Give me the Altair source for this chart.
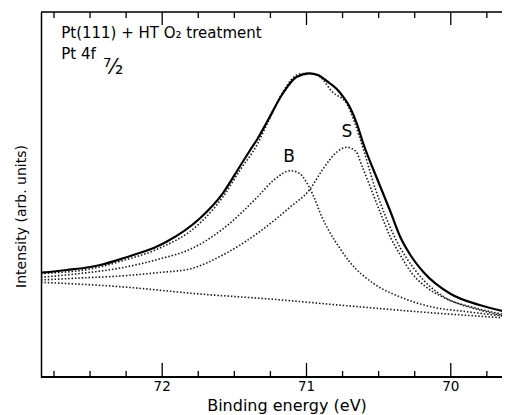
import altair as alt
import pandas as pd

# ---- data ----
total_E = [72.84, 72.66, 72.50, 72.43, 72.27, 72.20, 72.04, 71.97, 71.74, 71.58,
           71.46, 71.39, 71.34, 71.27, 71.16, 71.07, 70.98, 70.92, 70.86, 70.79,
           70.75, 70.70, 70.65, 70.61, 70.51, 70.42, 70.35, 70.28, 70.19, 70.00,
           69.80, 69.59]
total_I = [104.3, 107, 110, 112, 118.7, 122, 130.3, 135.3, 158.5, 183.7,
           211, 227, 238, 256, 284.5, 300, 303.7, 302, 296, 288,
           281, 270, 253, 235, 198, 166, 140, 122, 105, 83,
           72, 64.5]

env_E = [72.84, 72.50, 72.27, 72.04, 71.74, 71.58, 71.46, 71.34, 71.27, 71.16, 71.05,
         70.98, 70.91, 70.82, 70.72, 70.63, 70.52, 70.39, 70.23, 70.05, 69.82, 69.59]
env_I = [103.5, 108, 116.5, 127.5, 153.7, 180, 207, 233, 254, 286, 303,
         303.5, 300.5, 285, 273, 239, 187, 140.3, 103.7, 80.3, 68.7, 61.5]

b_E = [72.84, 72.57, 72.29, 72.02, 71.81, 71.58, 71.34, 71.23, 71.11, 71.05,
       70.96, 70.89, 70.84, 70.77, 70.70, 70.53, 70.35, 70.12, 69.89, 69.59]
b_I = [99.7, 103.5, 109, 118, 127.5, 148, 180, 196.5, 206.3, 203.7,
       183.7, 159, 145, 129, 115, 93, 80, 69.7, 65.3, 60.3]

s_E = [72.84, 72.57, 72.29, 72.02, 71.81, 71.58, 71.34, 71.11, 70.98, 70.89,
       70.84, 70.79, 70.72, 70.66, 70.61, 70.55, 70.49, 70.42, 70.35, 70.27,
       70.18, 70.07, 69.94, 69.80, 69.59]
s_I = [97, 99, 101, 104.5, 108, 122, 143.7, 170.3, 187, 207,
       217, 225, 229.7, 226, 209, 187, 165, 140.3, 122, 103.7,
       91, 81, 73, 67, 60]

bg_E = [72.84, 72.29, 71.74, 71.23, 70.70, 70.23, 69.59]
bg_I = [94.7, 90.3, 83, 77.7, 71, 65.3, 58.7]

major_ticks = [72, 71, 70]
major_labels = ["72", "71", "70"]
minor_ticks = [72.75, 72.5, 72.25, 71.75, 71.5, 71.25, 70.75, 70.5, 70.25, 69.75]
x_title = "Binding energy (eV)"

peak_labels = ["B", "S"]
peak_label_E = [71.12, 70.72]
peak_label_I = [220.5, 245.5]

note_lines = ["Pt(111) + HT O\u2082 treatment", "Pt 4f"]
note_E = [72.70, 72.70]
note_I = [339, 318]

# ---- layout ----
W, H = 461, 365
FONT = "DejaVu Sans"
E_LEFT, E_RIGHT = 72.84, 69.645
Y_TOP = 365


def xscale():
    return alt.Scale(domain=[E_RIGHT, E_LEFT], reverse=True, nice=False, zero=False)


yscale = alt.Scale(domain=[0, Y_TOP], nice=False, zero=False)

yaxis = alt.Axis(
    labels=False, ticks=False, grid=False, domain=True,
    domainColor="black", domainWidth=1.5,
    title="Intensity (arb. units)", titleFont=FONT, titleFontSize=14,
    titleFontWeight="normal", titleColor="black", titleAngle=270,
    titleX=-16, titleY=204, titleBaseline="alphabetic", titleAlign="center")

X = alt.X("E:Q", scale=xscale(), axis=None)
Y = alt.Y("I:Q", scale=yscale, axis=yaxis)

total_df = pd.DataFrame({"E": total_E, "I": total_I})
dotted_df = pd.concat([
    pd.DataFrame({"E": env_E, "I": env_I, "s": "envelope"}),
    pd.DataFrame({"E": b_E, "I": b_I, "s": "B"}),
    pd.DataFrame({"E": s_E, "I": s_I, "s": "S"}),
    pd.DataFrame({"E": bg_E, "I": bg_I, "s": "background"}),
])

dotted = alt.Chart(dotted_df).mark_line(
    color="#1a1a1a", strokeWidth=1.6, strokeDash=[1.5, 1.9],
    interpolate="monotone"
).encode(x=X, y=Y, detail="s:N")

solid = alt.Chart(total_df).mark_line(
    color="black", strokeWidth=2.2, interpolate="monotone"
).encode(x=X, y=Y)

frame = pd.DataFrame({"a": [0]})
top_border = alt.Chart(frame).mark_rule(color="black", strokeWidth=1.5).encode(
    x=alt.value(0), x2=alt.value(W), y=alt.value(0))
bottom_border = alt.Chart(pd.DataFrame({"b": [0]})).mark_rule(
    color="black", strokeWidth=2).encode(
    x=alt.value(0), x2=alt.value(W), y=alt.value(H))

# inward ticks on bottom and top edges (each layer gets its own x definition)
maj_tick_df = pd.DataFrame({"E": major_ticks})
min_tick_df = pd.DataFrame({"E": minor_ticks})


def ticks(df, y0, y1):
    return alt.Chart(df).mark_rule(color="black", strokeWidth=1.3).encode(
        x=alt.X("E:Q", scale=xscale(), axis=None),
        y=alt.value(y0), y2=alt.value(y1))


tick_layers = [
    ticks(maj_tick_df, H, H - 14), ticks(min_tick_df, H, H - 6),
    ticks(maj_tick_df, 0, 13), ticks(min_tick_df, 0, 6),
]

label_df = pd.DataFrame({"E": major_ticks, "t": major_labels})
tick_labels = alt.Chart(label_df).mark_text(
    font=FONT, fontSize=13.5, color="black", baseline="top", align="center"
).encode(x=X, y=alt.value(H + 3), text="t:N")

title_df = pd.DataFrame({"t": [x_title]})
x_title_text = alt.Chart(title_df).mark_text(
    font=FONT, fontSize=16, color="black", baseline="alphabetic", align="center"
).encode(x=alt.value(246), y=alt.value(H + 34), text="t:N")

lab_df = pd.DataFrame({"E": peak_label_E, "I": peak_label_I, "t": peak_labels})
peak_text = alt.Chart(lab_df).mark_text(
    font=FONT, fontSize=17, color="black", baseline="middle", align="center"
).encode(x=X, y=Y, text="t:N")

note_df = pd.DataFrame({"E": note_E, "I": note_I, "t": note_lines})
notes = alt.Chart(note_df).mark_text(
    font=FONT, fontSize=15, color="black", baseline="alphabetic", align="left"
).encode(x=X, y=Y, text="t:N")

frac_df = pd.DataFrame({"E": [72.41], "I": [303], "t": ["\u2077\u2044\u2082"]})
frac = alt.Chart(frac_df).mark_text(
    font=FONT, fontSize=21, color="black", baseline="alphabetic", align="left"
).encode(x=X, y=Y, text="t:N")

chart = alt.layer(
    dotted, solid, top_border, bottom_border, peak_text, notes, frac,
    tick_labels, x_title_text, *tick_layers
).properties(
    width=W, height=H,
    autosize=alt.AutoSizeParams(type="none"),
    padding={"left": 33, "top": 4, "right": 0, "bottom": 38},
).configure_view(stroke=None).configure(background="white")

chart.save("out.html", embed_options={"renderer": "svg", "actions": False})
